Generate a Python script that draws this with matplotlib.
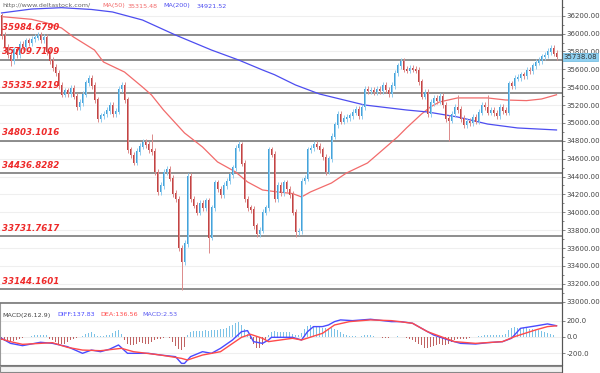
import numpy as np
import matplotlib
matplotlib.use("Agg")
from matplotlib import pyplot as plt
from matplotlib.patches import Rectangle

W, H = 600, 373

# ---- price data (one candle per session) ----
first_open = 36200
closes = [
    35980, 35850, 35760, 35700, 35820, 35760, 35880, 35850, 35920, 35900,
    35940, 35960, 35980, 35930, 35960, 35800, 35700, 35620, 35560, 35420,
    35320, 35360, 35330, 35390, 35300, 35180, 35230, 35320, 35450, 35500,
    35420, 35260, 35050, 35080, 35100, 35140, 35200, 35100, 35130, 35380,
    35420, 35260, 34700, 34640, 34560, 34680, 34740, 34780, 34760, 34700,
    34680, 34450, 34230, 34300, 34450, 34480, 34380, 34210, 34150, 33600,
    33450, 33650, 34400, 34150, 34080, 34000, 34100, 34050, 34130, 33720,
    34050, 34330, 34260, 34200, 34300, 34350, 34420, 34500, 34720, 34760,
    34550, 34150, 34050, 34030, 33850, 33760, 33800, 34000, 34050, 34700,
    34650, 34150, 34300, 34220, 34330, 34260, 34200, 34000, 33780, 33790,
    34350, 34380, 34700, 34720, 34760, 34740, 34700, 34620, 34460, 34600,
    34850, 34980, 35100, 35020, 35050, 35060, 35080, 35120, 35150, 35080,
    35180, 35380, 35360, 35370, 35350, 35380, 35360, 35420, 35370, 35330,
    35420, 35560, 35640, 35690, 35600, 35590, 35610, 35600, 35590, 35460,
    35300, 35340, 35100, 35230, 35280, 35250, 35300, 35200, 35050, 35030,
    35100, 35180, 35150, 35050, 34980, 35020, 35000, 35060, 35020, 35120,
    35200, 35180, 35120, 35140, 35110, 35080, 35180, 35140, 35120, 35440,
    35420, 35500, 35510, 35540, 35530, 35590, 35580, 35640, 35680, 35700,
    35740, 35760, 35800, 35840, 35780, 35738.08,
]
# long shadows that stand out
spike_high = {0: 36230, 50: 34880, 62: 34440, 80: 34790, 152: 35310, 162: 35310}
spike_low = {3: 35640, 60: 33130, 69: 33540, 98: 33720, 108: 34420, 149: 34800}

# moving averages, sampled along the curves
ma50_idx = [0, 10, 15, 20, 24, 31, 34, 41, 47, 50, 54, 61, 67, 72, 78, 82, 87,
            92, 97, 100, 103, 110, 115, 122, 127, 132, 135, 140, 143, 146, 152,
            162, 168, 175, 180, 185]
ma50 = [36190, 36160, 36120, 36063, 35962, 35816, 35682, 35570, 35402, 35313,
        35145, 34888, 34731, 34564, 34452, 34340, 34250, 34228, 34210, 34172,
        34228, 34328, 34440, 34552, 34697, 34843, 34944, 35100, 35180, 35235,
        35280, 35280, 35257, 35250, 35268, 35315.48]
ma200_idx = [0, 10, 20, 30, 37, 47, 58, 70, 79, 87, 91, 98, 106, 121, 135, 142,
             152, 162, 172, 185]
ma200 = [36231, 36275, 36290, 36270, 36242, 36152, 35984, 35816, 35705, 35593,
         35540, 35425, 35324, 35201, 35145, 35123, 35067, 34988, 34944, 34921.52]

levels = [35984.6790, 35709.7109, 35335.9219, 34803.1016, 34436.8282,
          33731.7617, 33144.1601]
level_labels = ["35984.6790", "35709.7109", "35335.9219", "34803.1016",
                "34436.8282", "33731.7617", "33144.1601"]

# ---- MACD(26,12,9) ----
macd_hist = [
    -40, -50, -60, -55, -45, -35, -25, -10, -5, 5,
    15, 20, 25, 30, 25, 20, -20, -40, -60, -80,
    -90, -80, -60, -40, -20, -10, 5, 10, 35, 50,
    55, 40, 15, 10, 15, 20, 25, 45, 70, 85,
    40, -40, -90, -100, -95, -80, -60, -70, -90, -80,
    -60, -40, -30, -20, -10, -5, -15, -60, -110, -150,
    -160, -120, 20, 60, 70, 70, 75, 70, 80, 75,
    85, 90, 80, 95, 100, 110, 130, 150, 170, 180,
    150, 100, 40, -30, -80, -130, -140, -100, -40, 20,
    60, 70, 65, 60, 65, 60, 55, 40, 30, 30,
    50, 100, 130, 145, 140, 130, 120, 115, 110, 100,
    110, 100, 80, 60, 40, 25, 15, 10, 10, 5,
    15, 20, 25, 20, 15, 5, -5, -10, -15, -10,
    -5, 5, 10, 5, -5, -15, -25, -40, -60, -80,
    -100, -130, -140, -120, -110, -100, -90, -100, -100, -80,
    -60, -40, -30, -20, -25, -20, -10, -5, 5, 10,
    15, 20, 25, 20, 25, 20, 25, 20, 40, 80,
    110, 120, 110, 100, 110, 110, 100, 100, 90, 80,
    70, 60, 50, 40, 20, 2.53,
]
diff_idx = [0, 3, 7, 13, 17, 22, 27, 30, 33, 36, 39, 42, 49, 53, 58, 60, 61, 63,
            67, 70, 73, 77, 80, 82, 84, 87, 89, 90, 97, 100, 102, 104, 107, 109,
            111, 113, 117, 123, 130, 133, 137, 140, 144, 149, 153, 158, 162, 167,
            170, 173, 178, 182, 185]
diff = [-16, -78, -106, -65, -78, -119, -200, -160, -180, -150, -98, -200, -200,
        -221, -241, -323, -323, -241, -180, -200, -139, -37, 65, 78, -57, -78,
        -37, -4, -4, -37, 65, 127, 127, 147, 188, 209, 200, 217, 188, 188, 168,
        106, 25, -37, -78, -86, -70, -57, -16, 106, 135, 160, 137.83]
dea_idx = [0, 3, 7, 13, 17, 22, 27, 33, 40, 44, 53, 60, 62, 67, 73, 80, 83, 87,
           89, 97, 100, 107, 111, 116, 123, 130, 137, 142, 148, 151, 158, 167,
           171, 178, 182, 185]
dea = [-25, -57, -90, -78, -70, -127, -160, -168, -139, -180, -221, -262, -282,
       -221, -180, -4, 33, -16, -57, -16, -37, 45, 147, 188, 209, 200, 168, 65,
       -16, -57, -78, -57, 4, 86, 127, 136.56]


def px(x, y):
    return x / W, 1 - y / H


fig = plt.figure(figsize=(W / 100, H / 100), dpi=100)
ax = fig.add_axes([0, 1 - 303 / H, 562 / W, 303 / H])
axm = fig.add_axes([0, 1 - 365 / H, 562 / W, 62 / H])

n = len(closes)
x = np.arange(n)
c = np.array(closes, dtype=float)
o = np.concatenate([[first_open], c[:-1]])
hi = np.maximum(o, c) + 35
lo = np.minimum(o, c) - 35
for i, v in spike_high.items():
    hi[i] = v
for i, v in spike_low.items():
    lo[i] = v
up = c >= o

# grid + support/resistance lines
for p in range(33000, 36400, 200):
    ax.axhline(p, color="#efefef", lw=0.8, zorder=0)
for lev, lab in zip(levels, level_labels):
    ax.axhline(lev, color="#7a7a7a", lw=1.2, zorder=1)
    ax.annotate(lab, (0.004, lev), xycoords=("axes fraction", "data"),
                xytext=(0, 2.2), textcoords="offset points", va="bottom",
                ha="left", color="#ee2a2a", fontsize=6.2, fontweight="bold",
                fontstyle="italic", zorder=5)

ax.plot(ma50_idx, ma50, color="#f26b6b", lw=0.9, zorder=2)
ax.plot(ma200_idx, ma200, color="#4d4df0", lw=0.9, zorder=2)

for sel, body, wick in [(up, "#45a3da", "#8fcbee"), (~up, "#c24444", "#dc8a8a")]:
    ax.vlines(x[sel], lo[sel], hi[sel], color=wick, lw=0.7, zorder=3)
    ax.bar(x[sel], np.abs(c - o)[sel] + 8, bottom=np.minimum(o, c)[sel] - 4,
           width=0.62, color=body, lw=0, zorder=4)

ax.set_xlim(-0.5, 186.83)
ax.set_ylim(32985, 36376)
ax.yaxis.tick_right()
ax.set_yticks(np.arange(33000, 36201, 200))
ax.set_yticks(np.arange(33100, 36301, 200), minor=True)
ax.set_yticklabels([f"{t:.2f}" for t in range(33000, 36201, 200)])
ax.tick_params(axis="y", which="both", labelsize=5, labelcolor="#444444",
               color="#555555", length=2, width=0.5, pad=1.5)
ax.tick_params(axis="y", which="minor", length=1.5)
ax.set_xticks([])
for s in ["top", "left"]:
    ax.spines[s].set_visible(False)
ax.spines["right"].set_color("#555555")
ax.spines["right"].set_linewidth(0.8)
ax.spines["bottom"].set_color("#888888")

# last price tag
ax.annotate("35738.08", (1.0, closes[-1]), xycoords=("axes fraction", "data"),
            xytext=(1, 0), textcoords="offset points", va="center", ha="left",
            fontsize=5, color="#333333", annotation_clip=False,
            bbox=dict(boxstyle="square,pad=0.15", fc="#8fd0f0", ec="#6ab8e0", lw=0.5))

# ---- MACD pane ----
h = np.array(macd_hist)
axm.bar(x, h, width=0.4, color=np.where(h >= 0, "#7cc2e6", "#c06262"), lw=0, zorder=2)
for p in [-200, 0, 200]:
    axm.axhline(p, color="#efefef", lw=0.8, zorder=0)
axm.plot(diff_idx, diff, color="#4a4aff", lw=1.0, zorder=3)
axm.plot(dea_idx, dea, color="#ff4a4a", lw=1.0, zorder=3)
axm.set_xlim(-0.5, 186.83)
axm.set_ylim(-343, 416)
axm.yaxis.tick_right()
axm.set_yticks([-200, 0, 200])
axm.set_yticklabels(["-200.0", "0.0", "200.0"])
axm.tick_params(axis="y", labelsize=5, labelcolor="#444444", color="#555555",
                length=2, width=0.5, pad=1.5)
axm.set_xticks([])
axm.spines["top"].set_color("#777777")
axm.spines["top"].set_linewidth(1.2)
axm.spines["left"].set_color("#999999")
axm.spines["bottom"].set_color("#777777")
axm.spines["right"].set_color("#555555")
axm.spines["right"].set_linewidth(0.8)

# bottom strip
fig.patches.append(Rectangle(px(0, 372), 562 / W, 6 / H, transform=fig.transFigure,
                             fc="#f2f2f2", ec="#888888", lw=0.8))
fig.add_artist(plt.Line2D([562 / W, 562 / W], [0, 1], color="#555555", lw=0.8))

# headers
hdr = [(2, 6, "http://www.deltastock.com/", "#666666"),
       (102, 6, "MA(50)", "#f26b6b"), (128, 6, "35315.48", "#f26b6b"),
       (163, 6, "MA(200)", "#4d4df0"), (197, 6, "34921.52", "#4d4df0"),
       (2, 315, "MACD(26.12.9)", "#444444"), (57, 315, "DIFF:137.83", "#4a4aff"),
       (100, 315, "DEA:136.56", "#ff4a4a"), (142, 315, "MACD:2.53", "#5a5af0")]
for hx, hy, s, col in hdr:
    fig.text(*px(hx, hy), s, fontsize=4.6, color=col, va="center", ha="left")

fig.savefig("out.png", dpi=100, facecolor="white")
